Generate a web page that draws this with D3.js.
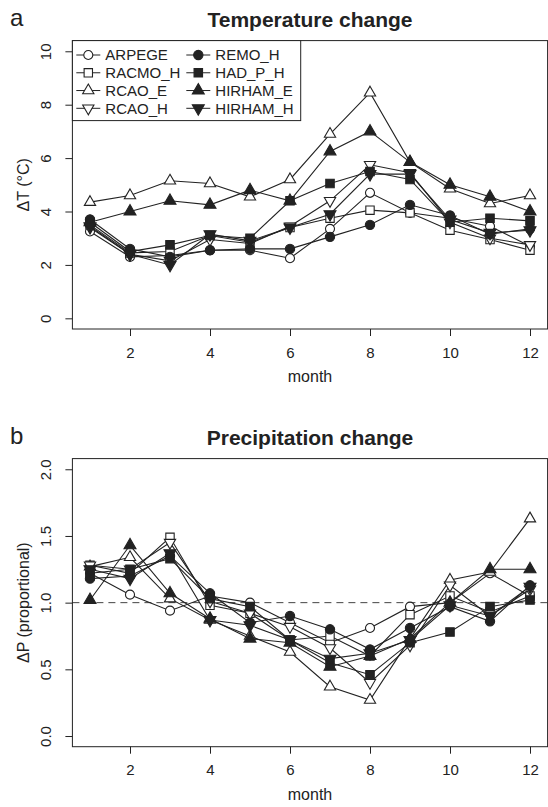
<!DOCTYPE html>
<html>
<head>
<meta charset="utf-8">
<script src="https://cdn.jsdelivr.net/npm/d3@7"></script>
<style>
  body { margin: 0; background: #fff; }
  text { font-family: "Liberation Sans", Arial, sans-serif; fill: #222; }
</style>
</head>
<body>
<div id="fig"></div>
<script>
// month index for both panels
const months = [1, 2, 3, 4, 5, 6, 7, 8, 9, 10, 11, 12];
const models = ["ARPEGE", "RACMO_H", "RCAO_E", "RCAO_H", "REMO_H", "HAD_P_H", "HIRHAM_E", "HIRHAM_H"];

// temperature change (deg C) per model
const dT_ARPEGE   = [3.25, 2.30, 2.35, 2.55, 2.55, 2.25, 3.35, 4.70, 3.95, 3.75, 3.45, 2.70];
const dT_RACMO_H  = [3.50, 2.45, 2.50, 3.10, 2.85, 3.40, 3.75, 4.05, 3.95, 3.30, 2.95, 2.55];
const dT_RCAO_E   = [4.35, 4.60, 5.15, 5.05, 4.55, 5.20, 6.90, 8.45, 5.85, 4.85, 4.30, 4.60];
const dT_RCAO_H   = [3.40, 2.40, 2.15, 2.95, 2.80, 3.45, 4.40, 5.75, 5.45, 3.60, 3.00, 2.75];
const dT_REMO_H   = [3.70, 2.60, 2.30, 2.55, 2.60, 2.60, 3.05, 3.50, 4.25, 3.85, 3.15, 3.35];
const dT_HAD_P_H  = [3.60, 2.50, 2.75, 3.10, 3.00, 4.40, 5.05, 5.50, 5.20, 3.60, 3.75, 3.65];
const dT_HIRHAM_E = [3.60, 4.00, 4.40, 4.25, 4.80, 4.40, 6.25, 7.00, 5.85, 5.00, 4.55, 4.00];
const dT_HIRHAM_H = [3.45, 2.40, 2.00, 3.15, 2.90, 3.40, 3.90, 5.40, 5.40, 3.70, 3.20, 3.30];

// precipitation change (proportional) per model
const dP_ARPEGE   = [1.22, 1.06, 0.94, 1.05, 1.00, 0.85, 0.70, 0.81, 0.97, 1.00, 1.22, 1.05];
const dP_RACMO_H  = [1.28, 1.22, 1.49, 0.98, 0.92, 0.72, 0.75, 0.60, 0.91, 1.05, 0.93, 1.05];
const dP_RCAO_E   = [1.27, 1.34, 1.03, 0.87, 0.75, 0.63, 0.37, 0.27, 0.73, 1.17, 1.23, 1.63];
const dP_RCAO_H   = [1.28, 1.25, 1.45, 1.01, 0.92, 0.82, 0.66, 0.40, 0.68, 1.13, 0.90, 1.10];
const dP_REMO_H   = [1.18, 1.20, 1.35, 1.07, 0.85, 0.90, 0.80, 0.65, 0.81, 0.97, 0.86, 1.13];
const dP_HAD_P_H  = [1.22, 1.25, 1.33, 1.03, 0.97, 0.72, 0.55, 0.46, 0.70, 0.78, 0.97, 1.02];
const dP_HIRHAM_E = [1.02, 1.43, 1.07, 0.88, 0.73, 0.70, 0.52, 0.60, 0.73, 1.00, 1.25, 1.25];
const dP_HIRHAM_H = [1.25, 1.18, 1.37, 0.87, 0.83, 0.72, 0.58, 0.62, 0.72, 0.98, 0.90, 1.12];

const tempSeries = [dT_ARPEGE, dT_RACMO_H, dT_RCAO_E, dT_RCAO_H, dT_REMO_H, dT_HAD_P_H, dT_HIRHAM_E, dT_HIRHAM_H];
const precSeries = [dP_ARPEGE, dP_RACMO_H, dP_RCAO_E, dP_RCAO_H, dP_REMO_H, dP_HAD_P_H, dP_HIRHAM_E, dP_HIRHAM_H];

const xTicks = [2, 4, 6, 8, 10, 12];
const tempTicks = [0, 2, 4, 6, 8, 10];
const precTicks = [0, 0.5, 1, 1.5, 2];

const width = 548;
const height = 807;
const ink = "#222";

// plotting symbol per model: shape, filled, flipped
const marks = {
  ARPEGE:   {type: d3.symbolCircle,   size: 64, fill: false},
  RACMO_H:  {type: d3.symbolSquare,   size: 70, fill: false},
  RCAO_E:   {type: d3.symbolTriangle, size: 55, fill: false},
  RCAO_H:   {type: d3.symbolTriangle, size: 55, fill: false, flip: true},
  REMO_H:   {type: d3.symbolCircle,   size: 68, fill: true},
  HAD_P_H:  {type: d3.symbolSquare,   size: 72, fill: true},
  HIRHAM_E: {type: d3.symbolTriangle, size: 62, fill: true},
  HIRHAM_H: {type: d3.symbolTriangle, size: 62, fill: true, flip: true}
};

const svg = d3.select("#fig").append("svg")
    .attr("width", width)
    .attr("height", height)
    .attr("viewBox", [0, 0, width, height]);

const x = d3.scaleLinear().domain([0.56, 12.44]).range([72.4, 547.6]);

function drawMark(sel, name) {
  const m = marks[name];
  sel.append("path")
    .attr("d", d3.symbol(m.type, m.size)())
    .attr("transform", m.flip ? "rotate(180)" : null)
    .attr("fill", m.fill ? ink : "#fff")
    .attr("stroke", ink)
    .attr("stroke-width", 1.1);
}

function panel({top, bottom, yDomain, yTicks, yFormat, title, letter, ylabel, series, refLine}) {
  const y = d3.scaleLinear().domain(yDomain).range([bottom, top]);
  const g = svg.append("g");

  // dashed reference line
  if (refLine !== undefined) {
    g.append("line")
      .attr("x1", x.range()[0]).attr("x2", x.range()[1])
      .attr("y1", y(refLine)).attr("y2", y(refLine))
      .attr("stroke", "#444")
      .attr("stroke-dasharray", "7,5");
  }

  const line = d3.line().x((d, i) => x(months[i])).y(d => y(d));

  // each model: connecting line, then its symbols
  series.forEach((vals, k) => {
    const name = models[k];
    g.append("path")
      .attr("d", line(vals))
      .attr("fill", "none")
      .attr("stroke", ink)
      .attr("stroke-width", 1.1);
    g.append("g").selectAll("g")
      .data(vals)
      .join("g")
        .attr("transform", (d, i) => `translate(${x(months[i])},${y(d)})`)
        .each(function() { drawMark(d3.select(this), name); });
  });

  // frame
  g.append("rect")
    .attr("x", x.range()[0]).attr("y", top)
    .attr("width", x.range()[1] - x.range()[0])
    .attr("height", bottom - top)
    .attr("fill", "none")
    .attr("stroke", ink);

  const xAxis = g.append("g")
    .attr("transform", `translate(0,${bottom})`)
    .call(d3.axisBottom(x).tickValues(xTicks).tickSize(7).tickPadding(11));
  xAxis.select(".domain").remove();
  xAxis.selectAll("line").attr("stroke", ink);
  xAxis.selectAll("text").attr("font-size", 15).attr("font-family", null).attr("fill", ink);

  const yAxis = g.append("g")
    .attr("transform", `translate(${x.range()[0]},0)`)
    .call(d3.axisLeft(y).tickValues(yTicks).tickFormat(yFormat).tickSize(7));
  yAxis.select(".domain").remove();
  yAxis.selectAll("line").attr("stroke", ink);
  yAxis.selectAll("text")
    .attr("x", null).attr("dy", null)
    .attr("transform", "translate(-21,0) rotate(-90)")
    .attr("text-anchor", "middle")
    .attr("font-size", 15).attr("font-family", null).attr("fill", ink);

  g.append("text")
    .attr("x", (x.range()[0] + x.range()[1]) / 2)
    .attr("y", bottom + 53)
    .attr("text-anchor", "middle")
    .attr("font-size", 16)
    .text("month");

  g.append("text")
    .attr("transform", `translate(29,${(top + bottom) / 2}) rotate(-90)`)
    .attr("text-anchor", "middle")
    .attr("font-size", 16)
    .text(ylabel);

  g.append("text")
    .attr("x", (x.range()[0] + x.range()[1]) / 2)
    .attr("y", top - 14)
    .attr("text-anchor", "middle")
    .attr("font-size", 21)
    .attr("font-weight", "bold")
    .text(title);

  g.append("text")
    .attr("x", 10)
    .attr("y", top - 15)
    .attr("font-size", 24)
    .text(letter);

  return {g, y};
}

const a = panel({
  top: 40.6, bottom: 329,
  yDomain: [-0.4, 10.4], yTicks: tempTicks, yFormat: d3.format("d"),
  title: "Temperature change", letter: "a", ylabel: "ΔT (°C)",
  series: tempSeries
});

panel({
  top: 458.6, bottom: 746.7,
  yDomain: [-0.08, 2.08], yTicks: precTicks, yFormat: d3.format(".1f"),
  title: "Precipitation change", letter: "b", ylabel: "ΔP (proportional)",
  series: precSeries, refLine: 1
});

// legend in the top-left corner of panel a
const legend = a.g.append("g");
legend.append("rect")
  .attr("x", 72.4).attr("y", 40.6)
  .attr("width", 228.3).attr("height", 80)
  .attr("fill", "#fff")
  .attr("stroke", ink);

const rowY = d3.scalePoint().domain([0, 1, 2, 3]).range([55, 108.3]);
const colX = [88.3, 198.3];
models.forEach((name, k) => {
  const cx = colX[Math.floor(k / 4)];
  const cy = rowY(k % 4);
  const item = legend.append("g").attr("transform", `translate(${cx},${cy})`);
  item.append("line")
    .attr("x1", -12).attr("x2", 12)
    .attr("stroke", ink);
  drawMark(item, name);
  item.append("text")
    .attr("x", 17)
    .attr("dy", "0.35em")
    .attr("font-size", 15)
    .text(name);
});
</script>
</body>
</html>
